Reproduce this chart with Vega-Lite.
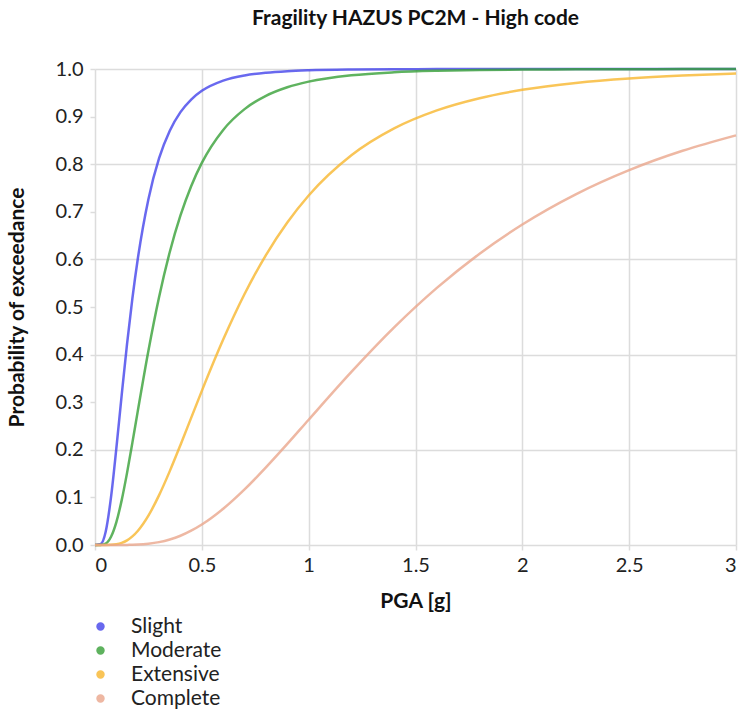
{
  "$schema": "https://vega.github.io/schema/vega-lite/v6.json",
  "width": 641,
  "height": 476,
  "padding": {"left": 6, "top": 8, "right": 2, "bottom": 2},
  "background": "white",
  "config": {
    "font": "Lato",
    "view": {"stroke": null},
    "axis": {"labelFont": "Lato", "titleFont": "Lato", "labelFontSize": 20, "titleFontSize": 21, "titleFontWeight": "bold", "labelColor": "#222", "titleColor": "#111", "gridColor": "#dcdcdc", "gridWidth": 1.5, "tickColor": "#dcdcdc", "tickWidth": 1.5, "tickSize": 5, "domain": false}
  },
  "title": {"text": "Fragility HAZUS PC2M - High code", "font": "Lato", "fontSize": 21, "fontWeight": "bold", "color": "#111", "anchor": "middle", "frame": "group", "offset": 30},
  "data": {"values": [
    {"state":"Slight","pga":0,"p":0},{"state":"Slight","pga":0.025,"p":0.0014},{"state":"Slight","pga":0.05,"p":0.0279},{"state":"Slight","pga":0.075,"p":0.1005},{"state":"Slight","pga":0.1,"p":0.2036},{"state":"Slight","pga":0.125,"p":0.3155},{"state":"Slight","pga":0.15,"p":0.4225},{"state":"Slight","pga":0.175,"p":0.518},{"state":"Slight","pga":0.2,"p":0.6003},{"state":"Slight","pga":0.25,"p":0.7266},{"state":"Slight","pga":0.3,"p":0.8126},{"state":"Slight","pga":0.35,"p":0.8704},{"state":"Slight","pga":0.4,"p":0.9094},{"state":"Slight","pga":0.45,"p":0.9359},{"state":"Slight","pga":0.5,"p":0.9541},{"state":"Slight","pga":0.6,"p":0.9756},{"state":"Slight","pga":0.7,"p":0.9865},{"state":"Slight","pga":0.8,"p":0.9922},{"state":"Slight","pga":0.9,"p":0.9954},{"state":"Slight","pga":1.0,"p":0.9972},{"state":"Slight","pga":1.2,"p":0.9989},{"state":"Slight","pga":1.4,"p":0.9995},{"state":"Slight","pga":1.6,"p":0.9998},{"state":"Slight","pga":1.8,"p":0.9999},{"state":"Slight","pga":2.0,"p":1.0},{"state":"Slight","pga":2.25,"p":1.0},{"state":"Slight","pga":2.5,"p":1.0},{"state":"Slight","pga":2.75,"p":1.0},{"state":"Slight","pga":3.0,"p":1.0},
    {"state":"Moderate","pga":0,"p":0},{"state":"Moderate","pga":0.025,"p":0.0001},{"state":"Moderate","pga":0.05,"p":0.003},{"state":"Moderate","pga":0.075,"p":0.0173},{"state":"Moderate","pga":0.1,"p":0.0481},{"state":"Moderate","pga":0.125,"p":0.0943},{"state":"Moderate","pga":0.15,"p":0.1515},{"state":"Moderate","pga":0.175,"p":0.215},{"state":"Moderate","pga":0.2,"p":0.2808},{"state":"Moderate","pga":0.25,"p":0.4083},{"state":"Moderate","pga":0.3,"p":0.5211},{"state":"Moderate","pga":0.35,"p":0.6156},{"state":"Moderate","pga":0.4,"p":0.6923},{"state":"Moderate","pga":0.45,"p":0.7538},{"state":"Moderate","pga":0.5,"p":0.8027},{"state":"Moderate","pga":0.6,"p":0.872},{"state":"Moderate","pga":0.7,"p":0.9157},{"state":"Moderate","pga":0.8,"p":0.9436},{"state":"Moderate","pga":0.9,"p":0.9616},{"state":"Moderate","pga":1.0,"p":0.9735},{"state":"Moderate","pga":1.2,"p":0.9868},{"state":"Moderate","pga":1.4,"p":0.9931},{"state":"Moderate","pga":1.6,"p":0.9962},{"state":"Moderate","pga":1.8,"p":0.9978},{"state":"Moderate","pga":2.0,"p":0.9987},{"state":"Moderate","pga":2.25,"p":0.9993},{"state":"Moderate","pga":2.5,"p":0.9996},{"state":"Moderate","pga":2.75,"p":0.9998},{"state":"Moderate","pga":3.0,"p":0.9999},
    {"state":"Extensive","pga":0,"p":0},{"state":"Extensive","pga":0.025,"p":0},{"state":"Extensive","pga":0.05,"p":0},{"state":"Extensive","pga":0.075,"p":0.0003},{"state":"Extensive","pga":0.1,"p":0.0015},{"state":"Extensive","pga":0.125,"p":0.0044},{"state":"Extensive","pga":0.15,"p":0.0097},{"state":"Extensive","pga":0.175,"p":0.018},{"state":"Extensive","pga":0.2,"p":0.0295},{"state":"Extensive","pga":0.25,"p":0.0617},{"state":"Extensive","pga":0.3,"p":0.1047},{"state":"Extensive","pga":0.35,"p":0.1552},{"state":"Extensive","pga":0.4,"p":0.2101},{"state":"Extensive","pga":0.45,"p":0.267},{"state":"Extensive","pga":0.5,"p":0.3238},{"state":"Extensive","pga":0.6,"p":0.4316},{"state":"Extensive","pga":0.7,"p":0.5273},{"state":"Extensive","pga":0.8,"p":0.6092},{"state":"Extensive","pga":0.9,"p":0.6776},{"state":"Extensive","pga":1.0,"p":0.7343},{"state":"Extensive","pga":1.2,"p":0.8188},{"state":"Extensive","pga":1.4,"p":0.8753},{"state":"Extensive","pga":1.6,"p":0.9131},{"state":"Extensive","pga":1.8,"p":0.9387},{"state":"Extensive","pga":2.0,"p":0.9563},{"state":"Extensive","pga":2.25,"p":0.9708},{"state":"Extensive","pga":2.5,"p":0.9802},{"state":"Extensive","pga":2.75,"p":0.9863},{"state":"Extensive","pga":3.0,"p":0.9904},
    {"state":"Complete","pga":0,"p":0},{"state":"Complete","pga":0.025,"p":0},{"state":"Complete","pga":0.05,"p":0},{"state":"Complete","pga":0.075,"p":0},{"state":"Complete","pga":0.1,"p":0},{"state":"Complete","pga":0.125,"p":0.0001},{"state":"Complete","pga":0.15,"p":0.0002},{"state":"Complete","pga":0.175,"p":0.0004},{"state":"Complete","pga":0.2,"p":0.0008},{"state":"Complete","pga":0.25,"p":0.0026},{"state":"Complete","pga":0.3,"p":0.006},{"state":"Complete","pga":0.35,"p":0.0115},{"state":"Complete","pga":0.4,"p":0.0194},{"state":"Complete","pga":0.45,"p":0.03},{"state":"Complete","pga":0.5,"p":0.043},{"state":"Complete","pga":0.6,"p":0.0761},{"state":"Complete","pga":0.7,"p":0.1168},{"state":"Complete","pga":0.8,"p":0.163},{"state":"Complete","pga":0.9,"p":0.2123},{"state":"Complete","pga":1.0,"p":0.2632},{"state":"Complete","pga":1.2,"p":0.3636},{"state":"Complete","pga":1.4,"p":0.4571},{"state":"Complete","pga":1.6,"p":0.5401},{"state":"Complete","pga":1.8,"p":0.6121},{"state":"Complete","pga":2.0,"p":0.6734},{"state":"Complete","pga":2.25,"p":0.7368},{"state":"Complete","pga":2.5,"p":0.7876},{"state":"Complete","pga":2.75,"p":0.8282},{"state":"Complete","pga":3.0,"p":0.8606}
  ]},
  "mark": {"type": "line", "strokeWidth": 2.5, "interpolate": "monotone", "opacity": 0.8},
  "encoding": {
    "x": {"field": "pga", "type": "quantitative", "title": "PGA [g]", "scale": {"domain": [0, 3], "nice": false},
      "axis": {"values": [0, 0.5, 1, 1.5, 2, 2.5, 3], "format": "~g", "titlePadding": 15, "labelPadding": 5}},
    "y": {"field": "p", "type": "quantitative", "title": "Probability of exceedance", "scale": {"domain": [0, 1], "nice": false},
      "axis": {"values": [0, 0.1, 0.2, 0.3, 0.4, 0.5, 0.6, 0.7, 0.8, 0.9, 1.0], "format": ".1f", "titlePadding": 28, "labelPadding": 7,
        "gridOpacity": {"condition": {"test": "round(datum.value * 10) % 2 === 0", "value": 1}, "value": 0}}},
    "color": {"field": "state", "type": "nominal", "sort": ["Slight", "Moderate", "Extensive", "Complete"],
      "scale": {"domain": ["Slight", "Moderate", "Extensive", "Complete"], "range": ["#4343eb", "#37a037", "#f8b62e", "#eaa68c"]},
      "legend": {"title": null, "orient": "none", "legendX": -5, "legendY": 547, "direction": "vertical", "symbolType": "circle", "symbolSize": 18, "symbolStrokeWidth": 4.2, "symbolOpacity": 0.8, "labelFont": "Lato", "labelFontSize": 21, "labelColor": "#222", "labelOffset": 20, "rowPadding": 1, "padding": 0}}
  }
}
